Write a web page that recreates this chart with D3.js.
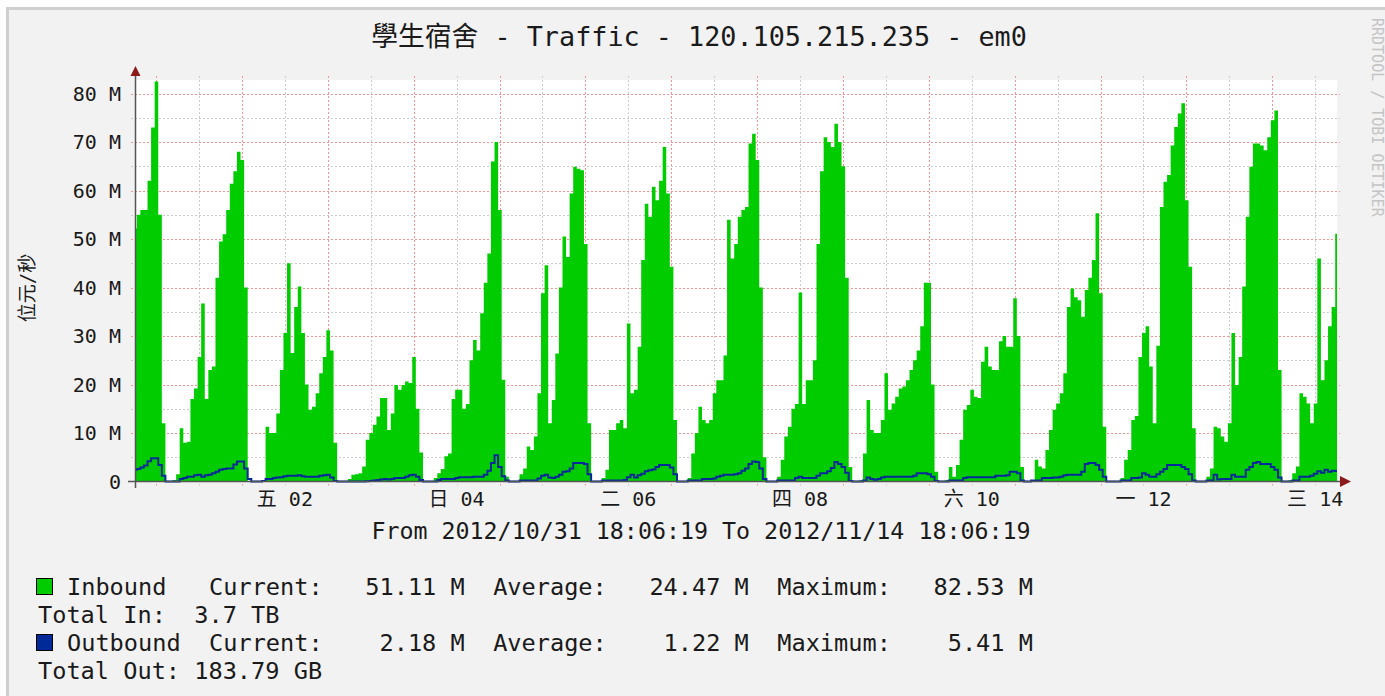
<!DOCTYPE html>
<html>
<head>
<meta charset="utf-8">
<script src="https://cdn.jsdelivr.net/npm/d3@7"></script>
<style>
body { margin: 0; background: #ffffff; }
svg text { font-family: "DejaVu Sans Mono", "Noto Sans CJK TC", monospace; fill: #1a1a1a; }
</style>
</head>
<body>
<svg id="chart" width="1385" height="696"></svg>
<script>
// rrdtool style 2 week traffic graph, hourly samples from the start time

const startTime = new Date(2012, 9, 31, 18, 6, 19),
      endTime = new Date(2012, 10, 14, 18, 6, 19);

// inbound bits/s in M, one value per hour
const inbound = [
  52.2, 55, 56, 56, 62, 73, 82.5, 55, 12, 0,
  0, 0.3, 1.5, 11, 8, 8.2, 17, 19.2, 25.7, 36.7,
  17, 23, 23.7, 42, 49.5, 51, 56, 61.4, 64, 68,
  66.3, 40, 0, 0, 0, 0, 0.3, 11.3, 10, 10,
  14, 23, 30.6, 45, 26.5, 36, 40.2, 30.6, 20, 14.8,
  15.4, 18.2, 22.3, 25.7, 31.2, 27, 8, 0, 0, 0,
  0.5, 1.4, 1.5, 1.7, 3.1, 8.6, 10, 11.7, 13.4, 17.2,
  17.2, 10.6, 14, 19.9, 18.9, 19.9, 20.6, 20.3, 25.7, 15,
  6, 0, 0, 0, 0.7, 1.7, 2.6, 5.2, 5.8, 17,
  18.9, 18.9, 15, 16, 25, 29.2, 27, 34.7, 41, 47,
  66, 70, 56, 21, 1, 0, 0, 0, 1.5, 2.7,
  7.2, 6.5, 9.3, 18.2, 38.8, 44.6, 12, 16.8, 26.4, 40,
  50.5, 46.3, 59.4, 64.9, 64.5, 64.2, 49, 12, 0, 0,
  0, 0.7, 2.4, 10.6, 10.6, 12, 12.7, 11, 32.6, 18.2,
  18.9, 27.8, 45.7, 57.3, 54.6, 60.8, 58, 62, 69, 59.4,
  44.3, 12.7, 0, 0, 0, 0.7, 5.8, 10, 15.4, 12.7,
  12, 12.7, 18.2, 20.9, 20.9, 26, 54, 46, 49, 54.6,
  56, 56.6, 69.7, 71.7, 66.3, 40, 5, 0, 0, 0,
  1, 4.5, 9.3, 11.3, 15, 16, 39, 16, 20.9, 20.9,
  25, 49, 64, 71, 70, 69, 73.8, 70, 65, 42,
  3, 0, 0, 0.3, 5.8, 16.8, 10.6, 10, 10, 12.7,
  22.3, 14.8, 16.1, 17.5, 19.2, 19.6, 20.9, 23, 25, 27,
  32, 41, 41, 20, 2, 0, 0, 0.3, 3, 1,
  3.4, 8.6, 14.8, 15.8, 18.9, 17.5, 17.2, 24.7, 27.8, 23.7,
  23, 23, 28.9, 30, 27.8, 27.8, 37.8, 30, 3, 0,
  0, 0.3, 4.5, 3.1, 2.7, 6.5, 10.6, 14.8, 16.1, 18.2,
  22.3, 36, 39.8, 38, 37.4, 34, 39.5, 42, 45.7, 55.3,
  38.8, 11.3, 0, 0, 0, 0, 0.7, 4.5, 6.5, 12.7,
  13.5, 25.7, 30.6, 32, 23.7, 12, 28, 56.6, 61.8, 63.2,
  69.3, 73.1, 75.9, 78, 58, 44.3, 11, 0, 0, 0,
  1, 2.7, 11.3, 11, 9.3, 8.2, 12, 30.6, 19.9, 25.7,
  40.2, 54.6, 64.9, 69.7, 69.7, 69.3, 68.3, 71, 74.5, 76.5,
  23, 0, 0, 0.3, 1.7, 3.1, 18.2, 17.5, 16.1, 12,
  16.1, 46, 20.9, 25, 32, 36, 51.11
];

// outbound bits/s in M, same hours
const outbound = [
  2.4, 2.6, 2.9, 3.3, 4.2, 4.8, 4.8, 3.4, 1.2, 0,
  0, 0, 0, 0.5, 0.7, 1.0, 1.0, 1.3, 1.4, 1.0,
  1.3, 1.4, 1.7, 2.0, 2.4, 2.6, 2.7, 2.7, 3.5, 4.1,
  4.1, 2.7, 0.5, 0, 0, 0, 0.1, 0.5, 0.5, 0.7,
  0.8, 0.9, 1.1, 1.2, 1.2, 1.2, 1.3, 1.1, 1.0, 1.0,
  1.0, 1.0, 1.2, 1.3, 1.4, 0.8, 0.1, 0, 0, 0,
  0, 0, 0, 0, 0, 0.05, 0.1, 0.2, 0.3, 0.4,
  0.5, 0.4, 0.5, 0.7, 0.7, 0.7, 1.0, 1.3, 1.4, 1.0,
  0.3, 0, 0, 0, 0, 0.3, 0.5, 0.5, 0.5, 0.5,
  0.7, 0.9, 0.9, 0.9, 0.9, 1.0, 1.0, 1.0, 1.4, 2.2,
  3.8, 5.41, 3.0, 1.1, 0.2, 0, 0, 0, 0.2, 0.2,
  0.2, 0.2, 0.2, 0.6, 1.2, 1.4, 0.8, 0.7, 1.0, 1.4,
  2.0, 2.1, 2.7, 3.8, 3.8, 3.8, 3.6, 1.5, 0, 0,
  0, 0.2, 0.2, 0.2, 0.2, 0.2, 0.2, 0.3, 0.9, 1.4,
  0.8, 1.3, 1.6, 2.1, 2.3, 2.5, 3.0, 3.4, 3.4, 3.4,
  2.9, 1.5, 0, 0, 0, 0.2, 0.2, 0.2, 0.2, 0.5,
  0.5, 0.5, 0.6, 1.0, 1.2, 1.4, 1.4, 1.4, 1.5, 1.7,
  2.2, 2.7, 3.6, 4.1, 4.0, 2.7, 0.5, 0, 0, 0,
  0.2, 0.2, 0.2, 0.2, 0.2, 0.7, 1.0, 0.7, 0.7, 0.7,
  0.7, 1.2, 1.7, 1.7, 2.1, 2.8, 4.0, 3.6, 3.0, 1.8,
  0.1, 0, 0, 0, 0.2, 0.8, 0.5, 0.35, 0.5, 0.8,
  1.0, 1.0, 1.0, 1.0, 1.0, 1.0, 1.0, 1.0, 1.2, 1.7,
  1.7, 1.7, 1.5, 1.0, 0.1, 0, 0, 0, 0.2, 0.2,
  0.2, 0.2, 0.7, 0.9, 0.9, 0.9, 0.9, 0.9, 0.9, 0.9,
  0.9, 1.2, 1.2, 1.2, 1.3, 2.0, 2.0, 1.7, 0.2, 0,
  0, 0.2, 0.2, 0.2, 0.7, 0.7, 0.7, 0.8, 0.8, 1.0,
  1.3, 1.4, 1.4, 1.4, 1.4, 2.0, 3.6, 3.8, 3.8, 3.4,
  2.4, 1.0, 0, 0, 0, 0, 0.2, 0.2, 0.2, 0.7,
  0.7, 0.8, 1.7, 1.4, 1.0, 1.0, 1.5, 2.0, 2.6, 3.4,
  3.4, 3.4, 3.4, 3.0, 2.6, 1.5, 0.2, 0, 0, 0,
  0.2, 0.2, 1.4, 0.4, 0.5, 0.5, 0.5, 1.4, 1.0, 1.0,
  1.0, 2.4, 3.0, 3.8, 4.0, 3.6, 3.6, 3.6, 3.0, 2.4,
  0.8, 0, 0, 0, 0.2, 0.2, 1.0, 1.0, 1.0, 1.2,
  1.6, 2.1, 1.8, 2.4, 2.0, 2.2, 2.18
];

const yTicks = [0, 10, 20, 30, 40, 50, 60, 70, 80];
const yMinorTicks = [5, 15, 25, 35, 45, 55, 65, 75];
const weekdays = ["日", "一", "二", "三", "四", "五", "六"];

const legendRows = [
  { name: "Inbound ", color: "#00cc00", current: "51.11 M", average: "24.47 M", maximum: "82.53 M", total: "Total In:  3.7 TB" },
  { name: "Outbound", color: "#002a97", current: "2.18 M", average: "1.22 M", maximum: "5.41 M", total: "Total Out: 183.79 GB" }
];

const svg = d3.select("#chart");

const plot = { left: 135, right: 1337, top: 80, bottom: 481.5 };

const x = d3.scaleTime()
    .domain([startTime, endTime])
    .range([plot.left, plot.right]);

const y = d3.scaleLinear()
    .domain([0, 82.8])
    .range([plot.bottom, plot.top]);

// canvas with frame
svg.append("rect")
    .attr("x", 7.5).attr("y", 8.5)
    .attr("width", 1400).attr("height", 700)
    .attr("fill", "#f2f2f2")
    .attr("stroke", "#cfcfcf")
    .attr("stroke-width", 3);

svg.append("rect")
    .attr("x", plot.left).attr("y", plot.top)
    .attr("width", plot.right - plot.left)
    .attr("height", plot.bottom - plot.top)
    .attr("fill", "#ffffff");

// grid
const grid = svg.append("g");

const midnights = d3.timeDay.range(startTime, endTime);
const noons = d3.timeHour.every(12).range(startTime, endTime)
    .filter(d => d.getHours() === 12);

grid.selectAll(".ymin").data(yMinorTicks).enter().append("line")
    .attr("x1", plot.left - 4).attr("x2", plot.right + 3)
    .attr("y1", d => Math.round(y(d)) + 0.5).attr("y2", d => Math.round(y(d)) + 0.5)
    .attr("stroke", "#cccccc").attr("stroke-dasharray", "2,2");

grid.selectAll(".xmin").data(noons).enter().append("line")
    .attr("x1", d => Math.round(x(d)) + 0.5).attr("x2", d => Math.round(x(d)) + 0.5)
    .attr("y1", plot.top - 4).attr("y2", plot.bottom + 4)
    .attr("stroke", "#cccccc").attr("stroke-dasharray", "2,2");

grid.selectAll(".ymaj").data(yTicks.slice(1)).enter().append("line")
    .attr("x1", plot.left - 4).attr("x2", plot.right + 3)
    .attr("y1", d => Math.round(y(d)) + 0.5).attr("y2", d => Math.round(y(d)) + 0.5)
    .attr("stroke", "#f29494").attr("stroke-dasharray", "2,2");

grid.selectAll(".xmaj").data(midnights).enter().append("line")
    .attr("x1", d => Math.round(x(d)) + 0.5).attr("x2", d => Math.round(x(d)) + 0.5)
    .attr("y1", plot.top - 4).attr("y2", plot.bottom + 4)
    .attr("stroke", "#f29494").attr("stroke-dasharray", "2,2");

// data, drawn as steps like rrdtool does
const hour = i => d3.timeHour.offset(startTime, i);

const area = d3.area()
    .x((d, i) => x(hour(i)))
    .y0(y(0))
    .y1(d => y(d))
    .curve(d3.curveStep);

const line = d3.line()
    .x((d, i) => x(hour(i)))
    .y(d => y(d))
    .curve(d3.curveStep);

svg.append("path")
    .datum(inbound)
    .attr("d", area)
    .attr("fill", "#00cc00");

svg.append("path")
    .datum(outbound)
    .attr("d", line)
    .attr("fill", "none")
    .attr("stroke", "#002a97")
    .attr("stroke-width", 2);

// axes
svg.append("line")
    .attr("x1", plot.left + 0.5).attr("x2", plot.left + 0.5)
    .attr("y1", 70).attr("y2", 488)
    .attr("stroke", "#555").attr("stroke-width", 1.5);

svg.append("line")
    .attr("x1", 128).attr("x2", 1341)
    .attr("y1", plot.bottom).attr("y2", plot.bottom)
    .attr("stroke", "#555").attr("stroke-width", 1.5);

svg.append("path")
    .attr("d", "M" + (plot.left + 0.5) + ",66L" + (plot.left - 4.5) + ",76L" + (plot.left + 5.5) + ",76Z")
    .attr("fill", "#8b1a1a");

svg.append("path")
    .attr("d", "M1351," + plot.bottom + "L1340," + (plot.bottom - 5.5) + "L1340," + (plot.bottom + 5.5) + "Z")
    .attr("fill", "#8b1a1a");

svg.selectAll(".ylab").data(yTicks).enter().append("text")
    .attr("x", 121)
    .attr("y", d => y(d) + 7)
    .attr("text-anchor", "end")
    .style("font-size", "20px")
    .text(d => d === 0 ? "0" : d + " M");

const labelDays = midnights.filter(d => d.getDate() % 2 === 0);

svg.selectAll(".xlab").data(labelDays).enter().append("text")
    .attr("x", d => x(d3.timeHour.offset(d, 12)))
    .attr("y", 506)
    .attr("text-anchor", "middle")
    .style("font-size", "20px")
    .text(d => weekdays[d.getDay()] + " " + d3.timeFormat("%d")(d));

// titles
svg.append("text")
    .attr("x", 699).attr("y", 46)
    .attr("text-anchor", "middle")
    .style("font-size", "26.8px")
    .text("學生宿舍 - Traffic - 120.105.215.235 - em0");

svg.append("text")
    .attr("transform", "translate(34,288) rotate(-90)")
    .attr("text-anchor", "middle")
    .style("font-size", "19px")
    .text("位元/秒");

svg.append("text")
    .attr("transform", "translate(1372,18) rotate(90)")
    .attr("text-anchor", "start")
    .style("font-size", "15px")
    .style("fill", "#c4c4c4")
    .text("RRDTOOL / TOBI OETIKER");

const fmt = d3.timeFormat("%Y/%m/%d %H:%M:%S");
svg.append("text")
    .attr("x", 701).attr("y", 539)
    .attr("text-anchor", "middle")
    .style("font-size", "23.3px")
    .text("From " + fmt(startTime) + " To " + fmt(endTime));

// legend
const legend = svg.append("g");

legendRows.forEach(function(r, i){
    var top = 578 + i * 56;

    legend.append("rect")
	.attr("x", 36.5).attr("y", top + 0.5)
	.attr("width", 16).attr("height", 16)
	.attr("fill", r.color)
	.attr("stroke", "#000");

    var row = r.name + "  Current:" + r.current.padStart(10) +
	"  Average:" + r.average.padStart(10) +
	"  Maximum:" + r.maximum.padStart(10);

    legend.append("text")
	.attr("x", 67).attr("y", top + 17)
	.attr("xml:space", "preserve")
	.style("white-space", "pre")
	.style("font-size", "23.6px")
	.text(row);

    legend.append("text")
	.attr("x", 38).attr("y", top + 45)
	.attr("xml:space", "preserve")
	.style("white-space", "pre")
	.style("font-size", "23.6px")
	.text(r.total);
});
</script>
</body>
</html>
